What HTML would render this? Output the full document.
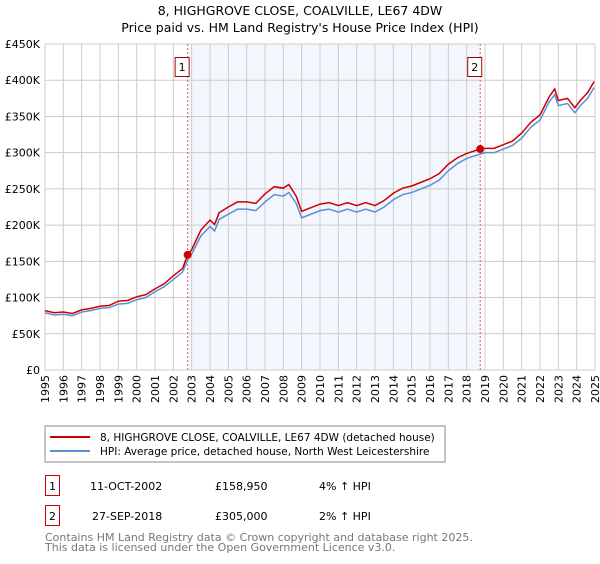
<!DOCTYPE html>
<html><head><meta charset="utf-8"><style>
body{margin:0;background:#fff;font-family:"DejaVu Sans","Liberation Sans",sans-serif;}
</style></head><body>
<svg id="c" width="600" height="560" xmlns="http://www.w3.org/2000/svg" style="font-family:'DejaVu Sans','Liberation Sans',sans-serif">
<text x="300" y="15" text-anchor="middle" font-size="12.5">8, HIGHGROVE CLOSE, COALVILLE, LE67 4DW</text>
<text x="300" y="32" text-anchor="middle" font-size="12.5">Price paid vs. HM Land Registry's House Price Index (HPI)</text>
<g id="plot"></g>
<rect x="45" y="426" width="400" height="36" fill="#fff" stroke="#888"/>
<line x1="50" y1="437" x2="90" y2="437" stroke="#cc0000" stroke-width="2"/>
<text x="100" y="441" font-size="10.5">8, HIGHGROVE CLOSE, COALVILLE, LE67 4DW (detached house)</text>
<line x1="50" y1="451" x2="90" y2="451" stroke="#5b8fd6" stroke-width="2"/>
<text x="100" y="455" font-size="10.5">HPI: Average price, detached house, North West Leicestershire</text>
<g font-size="11">
<rect x="45.5" y="475.5" width="14" height="20" fill="none" stroke="#c00"/>
<text x="52.5" y="490" text-anchor="middle">1</text>
<text x="90" y="490">11-OCT-2002</text><text x="215" y="490">£158,950</text><text x="319" y="490">4% ↑ HPI</text>
<rect x="45.5" y="505.5" width="14" height="20" fill="none" stroke="#c00"/>
<text x="52.5" y="520" text-anchor="middle">2</text>
<text x="92" y="520">27-SEP-2018</text><text x="215" y="520">£305,000</text><text x="319" y="520">2% ↑ HPI</text>
</g>
<text x="45" y="541" font-size="11" fill="#777">Contains HM Land Registry data © Crown copyright and database right 2025.</text>
<text x="45" y="551" font-size="11" fill="#777">This data is licensed under the Open Government Licence v3.0.</text>
</svg>
<script>
const yTicks=[0,50000,100000,150000,200000,250000,300000,350000,400000,450000];
const yTickLabels=["£0","£50K","£100K","£150K","£200K","£250K","£300K","£350K","£400K","£450K"];
const years=[1995,1996,1997,1998,1999,2000,2001,2002,2003,2004,2005,2006,2007,2008,2009,2010,2011,2012,2013,2014,2015,2016,2017,2018,2019,2020,2021,2022,2023,2024,2025];
const hpiDates=[1995,1995.5,1996,1996.5,1997,1997.5,1998,1998.5,1999,1999.5,2000,2000.5,2001,2001.5,2002,2002.5,2002.78,2003,2003.5,2004,2004.25,2004.5,2005,2005.5,2006,2006.5,2007,2007.5,2008,2008.3,2008.7,2009,2009.5,2010,2010.5,2011,2011.5,2012,2012.5,2013,2013.5,2014,2014.5,2015,2015.5,2016,2016.5,2017,2017.5,2018,2018.74,2019,2019.5,2020,2020.5,2021,2021.5,2022,2022.5,2022.8,2023,2023.5,2023.9,2024.2,2024.6,2024.95];
const hpiValues=[79000,76000,77000,75000,80000,82000,85000,86000,91000,92000,97000,100000,108000,115000,125000,135000,152000,160000,185000,198000,192000,208000,215000,222000,222000,220000,232000,242000,240000,245000,230000,210000,215000,220000,222000,218000,222000,218000,222000,218000,225000,235000,242000,245000,250000,255000,262000,275000,285000,292000,298000,300000,300000,305000,310000,320000,335000,345000,370000,380000,365000,368000,355000,365000,375000,390000];
const propValues=[82000,79000,80000,78000,83000,85000,88000,89000,95000,96000,101000,104000,112000,119000,130000,140000,158950,166000,193000,207000,201000,217000,225000,232000,232000,230000,243000,253000,251000,256000,240000,219000,224000,229000,231000,227000,231000,227000,231000,227000,234000,244000,251000,254000,259000,264000,271000,284000,293000,299000,305000,306000,306000,311000,316000,327000,342000,352000,377000,388000,372000,375000,362000,372000,383000,398000];
const sales=[{n:"1",date:2002.78,price:158950},{n:"2",date:2018.74,price:305000}];
const X=d=>45+(d-1995)*(550/30), Y=v=>370-v*(326/450000);
const NS="http://www.w3.org/2000/svg", g=document.getElementById('plot');
function mk(t,a){const e=document.createElementNS(NS,t);for(const k in a)e.setAttribute(k,a[k]);g.appendChild(e);return e;}
let e=mk('rect',{x:X(sales[0].date),y:44,width:X(sales[1].date)-X(sales[0].date),height:326,fill:'#eef3fc',opacity:0.7});


yTicks.forEach((v,i)=>{let l=mk('line',{x1:45,x2:595,y1:Y(v),y2:Y(v),stroke:'#ccc'});


let t=mk('text',{x:40,y:Y(v)+4,'text-anchor':'end','font-size':11});t.textContent=yTickLabels[i];

});
years.forEach(y=>{let l=mk('line',{x1:X(y),x2:X(y),y1:44,y2:370,stroke:'#ccc'});


let t=mk('text',{x:0,y:0,'font-size':11,'text-anchor':'end',transform:`translate(${X(y)+4},375) rotate(-90)`});t.textContent=y;

});
sales.forEach(s=>{let l=mk('line',{x1:X(s.date),x2:X(s.date),y1:44,y2:370,stroke:'#e06060','stroke-dasharray':'2,2'});

});
let p1=mk('polyline',{points:hpiDates.map((d,i)=>X(d)+','+Y(hpiValues[i])).join(' '),fill:'none',stroke:'#5b8fd6','stroke-width':1.5});


let p2=mk('polyline',{points:hpiDates.map((d,i)=>X(d)+','+Y(propValues[i])).join(' '),fill:'none',stroke:'#cc0000','stroke-width':1.5});


sales.forEach(s=>{let c=mk('circle',{cx:X(s.date),cy:Y(s.price),r:4,fill:'#cc0000'});


let r=mk('rect',{x:X(s.date)-12.5,y:57.5,width:14,height:19,fill:'#fff',stroke:'#aa0000'});


let t=mk('text',{x:X(s.date)-5.5,y:71,'text-anchor':'middle','font-size':11});t.textContent=s.n;

});
</script>
</body></html>
